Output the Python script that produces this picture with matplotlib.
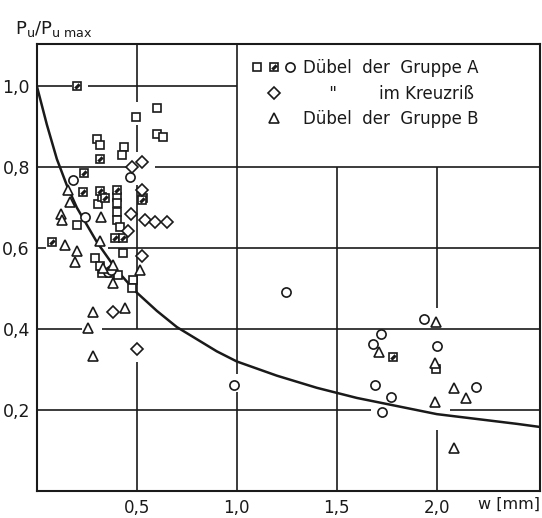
import matplotlib
matplotlib.use("Agg")
import matplotlib.pyplot as plt
from matplotlib.path import Path
from matplotlib.lines import Line2D
from matplotlib.legend_handler import HandlerTuple, HandlerBase
from matplotlib.ticker import FixedLocator, FixedFormatter

INK = "#1a1a1a"

# ---- data ----
sq_open_x = [0.60, 0.495, 0.60, 0.63, 0.30, 0.315, 0.435, 0.425, 0.40, 0.40, 0.40, 0.40,
             0.305, 0.325, 0.20, 0.415, 0.53, 0.43, 0.29, 0.325, 0.365, 0.405, 0.48, 0.475,
             0.315, 1.995]
sq_open_y = [0.946, 0.923, 0.881, 0.874, 0.869, 0.854, 0.849, 0.830, 0.726, 0.711, 0.689, 0.669,
             0.709, 0.726, 0.657, 0.652, 0.723, 0.588, 0.575, 0.538, 0.538, 0.533, 0.521, 0.501,
             0.556, 0.301]

sq_half_x = [0.20, 0.315, 0.235, 0.23, 0.315, 0.40, 0.34, 0.075, 0.39, 0.43, 0.525, 1.78]
sq_half_y = [1.00, 0.820, 0.785, 0.738, 0.741, 0.743, 0.723, 0.615, 0.625, 0.625, 0.720, 0.331]

circ_x = [0.18, 0.24, 0.465, 0.355, 0.37, 0.985, 1.245, 1.935, 1.72, 1.68, 2.00, 1.69, 1.77,
          1.725, 2.195]
circ_y = [0.768, 0.677, 0.775, 0.541, 0.545, 0.262, 0.491, 0.425, 0.388, 0.363, 0.358, 0.262,
          0.232, 0.195, 0.257]

dia_x = [0.525, 0.475, 0.525, 0.47, 0.54, 0.59, 0.65, 0.455, 0.525, 0.38, 0.50]
dia_y = [0.812, 0.800, 0.743, 0.684, 0.669, 0.664, 0.664, 0.642, 0.580, 0.442, 0.351]

tri_x = [0.155, 0.165, 0.12, 0.125, 0.32, 0.14, 0.20, 0.19, 0.315, 0.33, 0.38, 0.38, 0.515,
         0.28, 0.44, 0.255, 0.28, 1.995, 1.71, 1.99, 1.99, 2.085, 2.145, 2.085]
tri_y = [0.743, 0.714, 0.684, 0.669, 0.677, 0.607, 0.593, 0.565, 0.617, 0.551, 0.558, 0.514,
         0.546, 0.442, 0.452, 0.402, 0.333, 0.418, 0.343, 0.316, 0.220, 0.254, 0.230, 0.106]

curve_w = [0, 0.05, 0.1, 0.15, 0.2, 0.3, 0.4, 0.5, 0.6, 0.7, 0.8, 0.9, 1.0, 1.2, 1.4, 1.6,
           1.8, 2.0, 2.2, 2.4, 2.52]
curve_p = [1.0, 0.905, 0.82, 0.755, 0.70, 0.615, 0.545, 0.49, 0.445, 0.405, 0.375, 0.345,
           0.32, 0.285, 0.255, 0.23, 0.21, 0.19, 0.178, 0.166, 0.158]

x_ticks = [0.5, 1.0, 1.5, 2.0]
x_tick_labels = ["0,5", "1,0", "1,5", "2,0"]
y_ticks = [0.2, 0.4, 0.6, 0.8, 1.0]
y_tick_labels = ["0,2", "0,4", "0,6", "0,8", "1,0"]

legend_labels = ["Dübel  der  Gruppe A", '     "        im Kreuzriß', "Dübel  der  Gruppe B"]

# ---- figure ----
plt.rcParams["font.family"] = ["DejaVu Sans"]
plt.rcParams["mathtext.fontset"] = "dejavusans"
fig = plt.figure(figsize=(5.42, 5.18), dpi=100)
ax = fig.add_axes([0.068, 0.052, 0.928, 0.863])
ax.set_xlim(0, 2.515)
ax.set_ylim(0, 1.104)

# drafted grid with gaps (styling)
glw = 1.2
hsegs = [(1.0, 0, 0.175), (1.0, 0.255, 1.0),
         (0.8, 0, 0.45), (0.8, 0.59, 2.515),
         (0.6, 0, 0.045), (0.6, 0.355, 2.515),
         (0.4, 0, 0.225), (0.4, 0.325, 2.515),
         (0.2, 0, 1.67), (0.2, 2.065, 2.515)]
vsegs = [(0.5, 0, 0.318), (0.5, 0.40, 0.755), (0.5, 0.838, 0.905), (0.5, 0.96, 1.104),
         (1.0, 0, 0.245), (1.0, 0.29, 1.104),
         (1.5, 0, 0.80),
         (2.0, 0, 0.15), (2.0, 0.452, 0.80)]
for y, x0, x1 in hsegs:
    ax.hlines(y, x0, x1, color=INK, lw=glw, zorder=1)
for x, y0, y1 in vsegs:
    ax.vlines(x, y0, y1, color=INK, lw=glw, zorder=1)

ax.plot(curve_w, curve_p, color=INK, lw=1.8, zorder=2, solid_capstyle="butt")

mk = dict(linestyle="none", markerfacecolor="white", markeredgecolor=INK,
          markeredgewidth=1.2, zorder=3)
band = Path([(-1, -0.35), (-0.35, -1), (1, 0.35), (0.35, 1), (-1, -0.35)],
            [Path.MOVETO, Path.LINETO, Path.LINETO, Path.LINETO, Path.CLOSEPOLY])
band_style = dict(linestyle="none", marker=band, ms=4.2, markerfacecolor=INK,
                  markeredgecolor=INK, markeredgewidth=0.3)

h_sq, = ax.plot(sq_open_x, sq_open_y, marker="s", ms=6.4, **mk)
h_hf, = ax.plot(sq_half_x, sq_half_y, marker="s", ms=6.4, **mk)
ax.plot(sq_half_x, sq_half_y, zorder=4, **band_style)
h_ci, = ax.plot(circ_x, circ_y, marker="o", ms=6.6, **mk)
h_di, = ax.plot(dia_x, dia_y, marker="D", ms=6.3, **mk)
h_tr, = ax.plot(tri_x, tri_y, marker="^", ms=6.8, **mk)


class HalfSquareHandle(Line2D):
    pass


class HandlerHalfSquare(HandlerBase):
    def create_artists(self, legend, orig_handle, xdescent, ydescent, width, height,
                       fontsize, trans):
        cx = width / 2 - xdescent
        cy = height / 2 - ydescent
        a = Line2D([cx], [cy], marker="s", ms=6.4, linestyle="none",
                   markerfacecolor="white", markeredgecolor=INK, markeredgewidth=1.2)
        b = Line2D([cx], [cy], **band_style)
        for art in (a, b):
            art.set_transform(trans)
        return [a, b]


h_hf_leg = HalfSquareHandle([], [])

leg = ax.legend([(h_sq, h_hf_leg, h_ci), h_di, h_tr], legend_labels,
                handler_map={tuple: HandlerTuple(ndivide=None, pad=0),
                             HalfSquareHandle: HandlerHalfSquare()},
                loc="upper left", bbox_to_anchor=(0.421, 0.966), frameon=False,
                borderpad=0, borderaxespad=0, handlelength=3.0, handletextpad=0.25,
                labelspacing=0.45, fontsize=12, numpoints=1)
for t in leg.get_texts():
    t.set_color(INK)

# axes styling
for s in ax.spines.values():
    s.set_linewidth(1.5)
    s.set_color(INK)
ax.xaxis.set_major_locator(FixedLocator(x_ticks))
ax.xaxis.set_major_formatter(FixedFormatter(x_tick_labels))
ax.yaxis.set_major_locator(FixedLocator(y_ticks))
ax.yaxis.set_major_formatter(FixedFormatter(y_tick_labels))
ax.tick_params(axis="x", length=0, labelsize=12, colors=INK, pad=6)
ax.tick_params(axis="y", length=0, labelsize=12.5, colors=INK, pad=5)

ax.text(1.0, -0.0135, "w [mm]", transform=ax.transAxes, ha="right", va="top",
        fontsize=11.5, color=INK)
fig.text(0.028, 0.925, r"$\mathregular{P_u/P_{u\ max}}$", ha="left", va="bottom",
         fontsize=13, color=INK)

fig.savefig("out.png", dpi=100)
